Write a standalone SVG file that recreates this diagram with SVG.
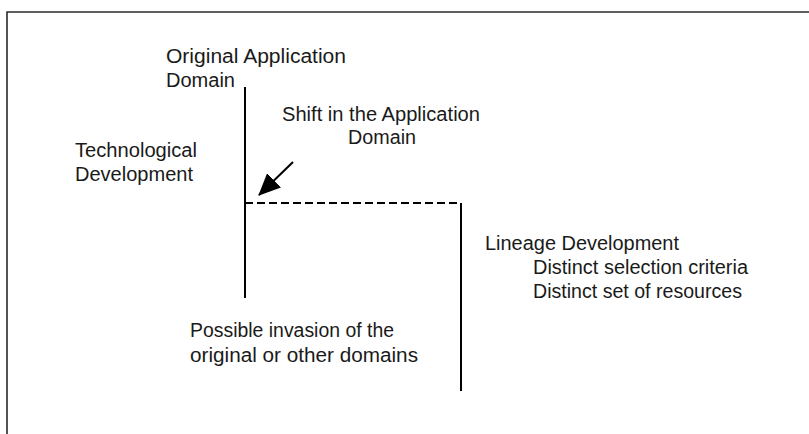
<svg xmlns="http://www.w3.org/2000/svg" width="809" height="434" viewBox="0 0 809 434">
<style>
text { font-family: "Liberation Sans", Arial, sans-serif; font-size: 20px; fill: #1a1a1a; }
.frame { stroke: #2a2a2a; stroke-width: 1.6; fill: none; }
.line { stroke: #000; stroke-width: 2; fill: none; }
.dash { stroke: #000; stroke-width: 2.2; stroke-dasharray: 8 4; fill: none; }
</style>
<defs>
<marker id="arrowhead" markerWidth="22" markerHeight="20" refX="21" refY="10" orient="auto" markerUnits="userSpaceOnUse">
<path d="M0,0 L22,10 L0,20 z" fill="#000"/>
</marker>
</defs>
<rect width="809" height="434" fill="#fff"/>
<path class="frame" d="M7,434 L7,12 L809,12"/>
<g id="connectors">
<line id="tech-line" class="line" x1="245" y1="87" x2="245" y2="298"/>
<line id="shift-line" class="dash" x1="245" y1="203" x2="461" y2="203"/>
<line id="lineage-line" class="line" x1="461" y1="203" x2="461" y2="391"/>
<line id="shift-arrow" class="line" x1="293" y1="162" x2="259" y2="195" marker-end="url(#arrowhead)"/>
</g>
<g id="original-domain">
<text x="166" y="63" textLength="180" lengthAdjust="spacingAndGlyphs">Original Application</text>
<text x="166" y="87" textLength="69" lengthAdjust="spacingAndGlyphs">Domain</text>
</g>
<g id="shift-domain">
<text x="282" y="121" textLength="198" lengthAdjust="spacingAndGlyphs">Shift in the Application</text>
<text x="348" y="144" textLength="68" lengthAdjust="spacingAndGlyphs">Domain</text>
</g>
<g id="technological">
<text x="75" y="157" textLength="122" lengthAdjust="spacingAndGlyphs">Technological</text>
<text x="75" y="181" textLength="118" lengthAdjust="spacingAndGlyphs">Development</text>
</g>
<g id="lineage">
<text x="485" y="250" textLength="194" lengthAdjust="spacingAndGlyphs">Lineage Development</text>
<text x="533" y="274" textLength="215" lengthAdjust="spacingAndGlyphs">Distinct selection criteria</text>
<text x="533" y="298" textLength="209" lengthAdjust="spacingAndGlyphs">Distinct set of resources</text>
</g>
<g id="invasion">
<text x="190" y="337" textLength="204" lengthAdjust="spacingAndGlyphs">Possible invasion of the</text>
<text x="190" y="362" textLength="228" lengthAdjust="spacingAndGlyphs">original or other domains</text>
</g>
</svg>
